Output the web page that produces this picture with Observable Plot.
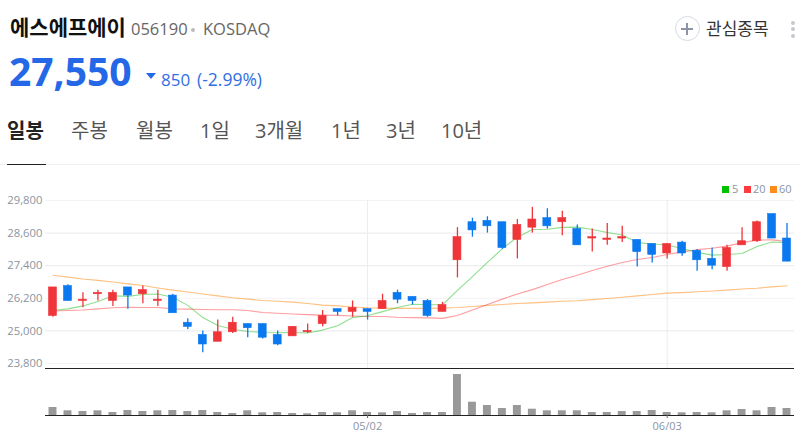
<!DOCTYPE html>
<html lang="ko"><head><meta charset="utf-8">
<script src="https://cdn.jsdelivr.net/npm/d3@7"></script>
<script src="https://cdn.jsdelivr.net/npm/@observablehq/plot@0.6"></script>
<style>
html,body{margin:0;padding:0;background:#fff;width:800px;height:440px;overflow:hidden;font-family:"Open Sans","Noto Sans CJK KR",sans-serif}
.a{position:absolute;white-space:nowrap;line-height:1}
svg{position:absolute;left:0;font-family:"Open Sans","Noto Sans CJK KR",sans-serif}
.tab{top:121px;font-size:20px;color:#555}
.sw{position:absolute;top:186px;width:7px;height:7px}
.lg{top:183px;font-size:11px;color:#8b95a1}
</style></head><body>
<div class="a" style="left:10px;top:17px;font-size:21px;font-weight:700;color:#111">에스에프에이</div>
<div class="a" style="left:131px;top:21px;font-size:16.5px;color:#666">056190</div>
<div class="a" style="left:191px;top:28px;width:4px;height:4px;background:#bbb;border-radius:2px"></div>
<div class="a" style="left:203px;top:21px;font-size:16.5px;color:#666">KOSDAQ</div>
<div class="a" style="left:9px;top:51px;font-size:39px;font-weight:700;color:#2468e8">27,550</div>
<div class="a" style="left:146px;top:73px;width:0;height:0;border-left:5px solid transparent;border-right:5px solid transparent;border-top:6px solid #2468e8"></div>
<div class="a" style="left:161px;top:71px;font-size:17px;color:#2f6fe4">850</div>
<div class="a" style="left:197px;top:71px;font-size:17.5px;color:#2f6fe4">(-2.99%)</div>
<div class="a" style="left:675px;top:16px;width:23px;height:23px;border:1px solid #d5dbe3;border-radius:50%"></div>
<div class="a" style="left:681px;top:28px;width:12px;height:2px;background:#8a94a6"></div>
<div class="a" style="left:686px;top:23px;width:2px;height:12px;background:#8a94a6"></div>
<div class="a" style="left:706px;top:20px;font-size:17px;color:#333">관심종목</div>
<div class="a" style="left:791px;top:21px;width:4px;height:4px;background:#c4c8cf;border-radius:2px"></div>
<div class="a" style="left:791px;top:27px;width:4px;height:4px;background:#c4c8cf;border-radius:2px"></div>
<div class="a" style="left:791px;top:34px;width:4px;height:4px;background:#c4c8cf;border-radius:2px"></div>
<div class="a tab" style="left:7px;font-weight:700;color:#222">일봉</div>
<div class="a tab" style="left:71px">주봉</div>
<div class="a tab" style="left:136px">월봉</div>
<div class="a tab" style="left:200px">1일</div>
<div class="a tab" style="left:255px">3개월</div>
<div class="a tab" style="left:331px">1년</div>
<div class="a tab" style="left:386px">3년</div>
<div class="a tab" style="left:441px">10년</div>
<div class="a" style="left:0;top:164px;width:800px;height:1px;background:#f0f0f0"></div>
<div class="a" style="left:7px;top:164px;width:39px;height:1px;background:#222"></div>
<div id="price"></div>
<div id="volume"></div>
<div class="sw" style="left:722px;background:#00c000"></div><div class="a lg" style="left:732px">5</div>
<div class="sw" style="left:744px;background:#ff3b3f"></div><div class="a lg" style="left:753px">20</div>
<div class="sw" style="left:770px;background:#ff8c1a"></div><div class="a lg" style="left:779px">60</div>
<script>
const open = [25550,26650,26100,26350,26100,26600,26350,26100,26300,25300,24850,24600,24950,25250,25250,24850,24800,24950,25250,25800,25700,25800,25800,26400,26250,26100,25700,27600,29000,29050,29000,28350,28800,29150,29000,28750,28400,28350,28400,28350,28200,27850,28250,27950,27650,27350,28150,28300,29300,28400];
const close = [26600,26100,26150,26400,26400,26300,26500,26150,25650,25150,24500,24950,25300,25100,24750,24500,25150,25000,25550,25700,25850,25700,26100,26150,26100,25550,25950,28450,28700,28850,28050,28900,29100,28850,29150,28150,28450,28400,28450,27900,27800,28200,27850,27600,27400,28050,28300,29000,28400,27550];
const high = [26600,26700,26400,26500,26500,26600,26650,26500,26350,25450,25000,25400,25500,25250,25250,25000,25150,25250,25750,25800,26100,25800,26350,26500,26250,26150,26050,28800,29150,29200,29000,29100,29550,29500,29400,28900,28750,28950,28850,28350,28200,28200,28300,28000,28050,28150,28800,29050,29300,28950];
const low = [25500,26100,25850,26100,25900,25800,26000,25900,25650,25050,24200,24600,24900,24750,24700,24450,24800,24900,25150,25550,25500,25400,25800,26000,25950,25500,25700,26950,28450,28600,28000,27650,28600,28750,28500,28150,27900,28150,28250,27350,27500,27650,27750,27200,27250,27200,28150,28250,28400,27550];
const ma5 = [25750,25810,25920,26080,26290,26270,26340,26360,26240,25940,25490,25200,25060,24980,24940,24930,24940,24920,25030,25190,25490,25560,25710,25860,25980,25960,25960,26490,27000,27520,28030,28450,28730,28740,28810,28820,28730,28620,28530,28250,28200,28160,28030,27890,27790,27810,27850,28110,28270,28250];
const ma20 = [25730,25750,25770,25810,25850,25870,25860,25860,25810,25800,25790,25780,25780,25750,25680,25650,25620,25600,25580,25570,25550,25530,25530,25500,25490,25480,25460,25570,25770,25970,26170,26360,26520,26710,26890,27050,27220,27380,27520,27630,27700,27810,27910,27990,28040,28120,28250,28340,28350,28290];
const ma60 = [27050,26980,26910,26860,26800,26730,26670,26580,26500,26430,26360,26290,26220,26170,26120,26090,26060,26010,25950,25920,25880,25850,25840,25830,25830,25830,25840,25860,25900,25940,25970,26010,26030,26060,26090,26110,26150,26190,26240,26290,26340,26390,26410,26440,26470,26500,26540,26570,26620,26660];
const volume = [80,47,40,47,30,50,40,47,50,40,50,30,20,47,27,30,20,17,30,27,47,30,27,40,20,30,30,410,133,100,70,100,63,47,47,47,30,30,40,40,50,30,27,30,27,47,60,47,80,70];
const priceTicks = [23800,25000,26200,27400,28600,29800];
const dateTicks = [21,41];
const dateLabels = ["05/02","06/03"];

const days = d3.range(open.length);
const rows = days.map(i => ({i, open:open[i], close:close[i], high:high[i], low:low[i], ma5:ma5[i], ma20:ma20[i], ma60:ma60[i], vol:volume[i]}));
const upColor = "#ef3539", downColor = "#0a78ee";
const col = d => d.close >= d.open ? upColor : downColor;
const xOpts = {type:"band", domain:days, paddingInner:0.47, paddingOuter:0.235, align:0.5, round:false};

const price = Plot.plot({
  width:800, height:190, marginLeft:45, marginRight:6, marginTop:20, marginBottom:2,
  x:{...xOpts, axis:null},
  y:{domain:[23616,29800], axis:null},
  marks:[
    Plot.ruleY(priceTicks,{stroke:d => (d===23800||d===29800||d===26200)?"#f3f3f3":"#e9e9ec"}),
    Plot.ruleX(dateTicks,{x:d=>d, stroke:"#ececee"}),
    Plot.axisY({ticks:priceTicks, tickSize:0, tickPadding:3, tickFormat:d3.format(","), label:null, fontSize:11.3, color:"#8b95a1", anchor:"left"}),
    Plot.line(rows,{x:"i",y:"ma60",stroke:"#ff8c1a",strokeOpacity:.55,strokeWidth:1.1,curve:"linear"}),
    Plot.line(rows,{x:"i",y:"ma20",stroke:"#ff3b3f",strokeOpacity:.5,strokeWidth:1.1,curve:"linear"}),
    Plot.line(rows,{x:"i",y:"ma5",stroke:"#1fc01f",strokeOpacity:.5,strokeWidth:1.1,curve:"linear"}),
    Plot.ruleX(rows,{x:"i",y1:"low",y2:"high",stroke:col,strokeWidth:1.3}),
    Plot.barY(rows,{x:"i",y1:"open",y2:"close",fill:col,stroke:col,strokeWidth:.6}),
    Plot.ruleY([23616],{stroke:"#222",strokeWidth:1.2})
  ]
});
price.style.top="180px";
document.getElementById("price").append(price);

const vol = Plot.plot({
  width:800, height:70, marginLeft:45, marginRight:6, marginTop:4, marginBottom:25,
  x:{...xOpts, axis:null},
  y:{domain:[0,410], axis:null},
  marks:[
    Plot.barY(rows,{x:"i",y:"vol",fill:"#999"}),
    Plot.ruleY([0],{stroke:"#222",strokeWidth:1.2}),
    Plot.axisX({ticks:dateTicks, tickSize:3, tickPadding:4, tickFormat:d=>dateLabels[dateTicks.indexOf(d)], label:null, fontSize:11, color:"#8b95a1", stroke:"#666"})
  ]
});
vol.style.top="370px";
document.getElementById("volume").append(vol);
</script></body></html>
